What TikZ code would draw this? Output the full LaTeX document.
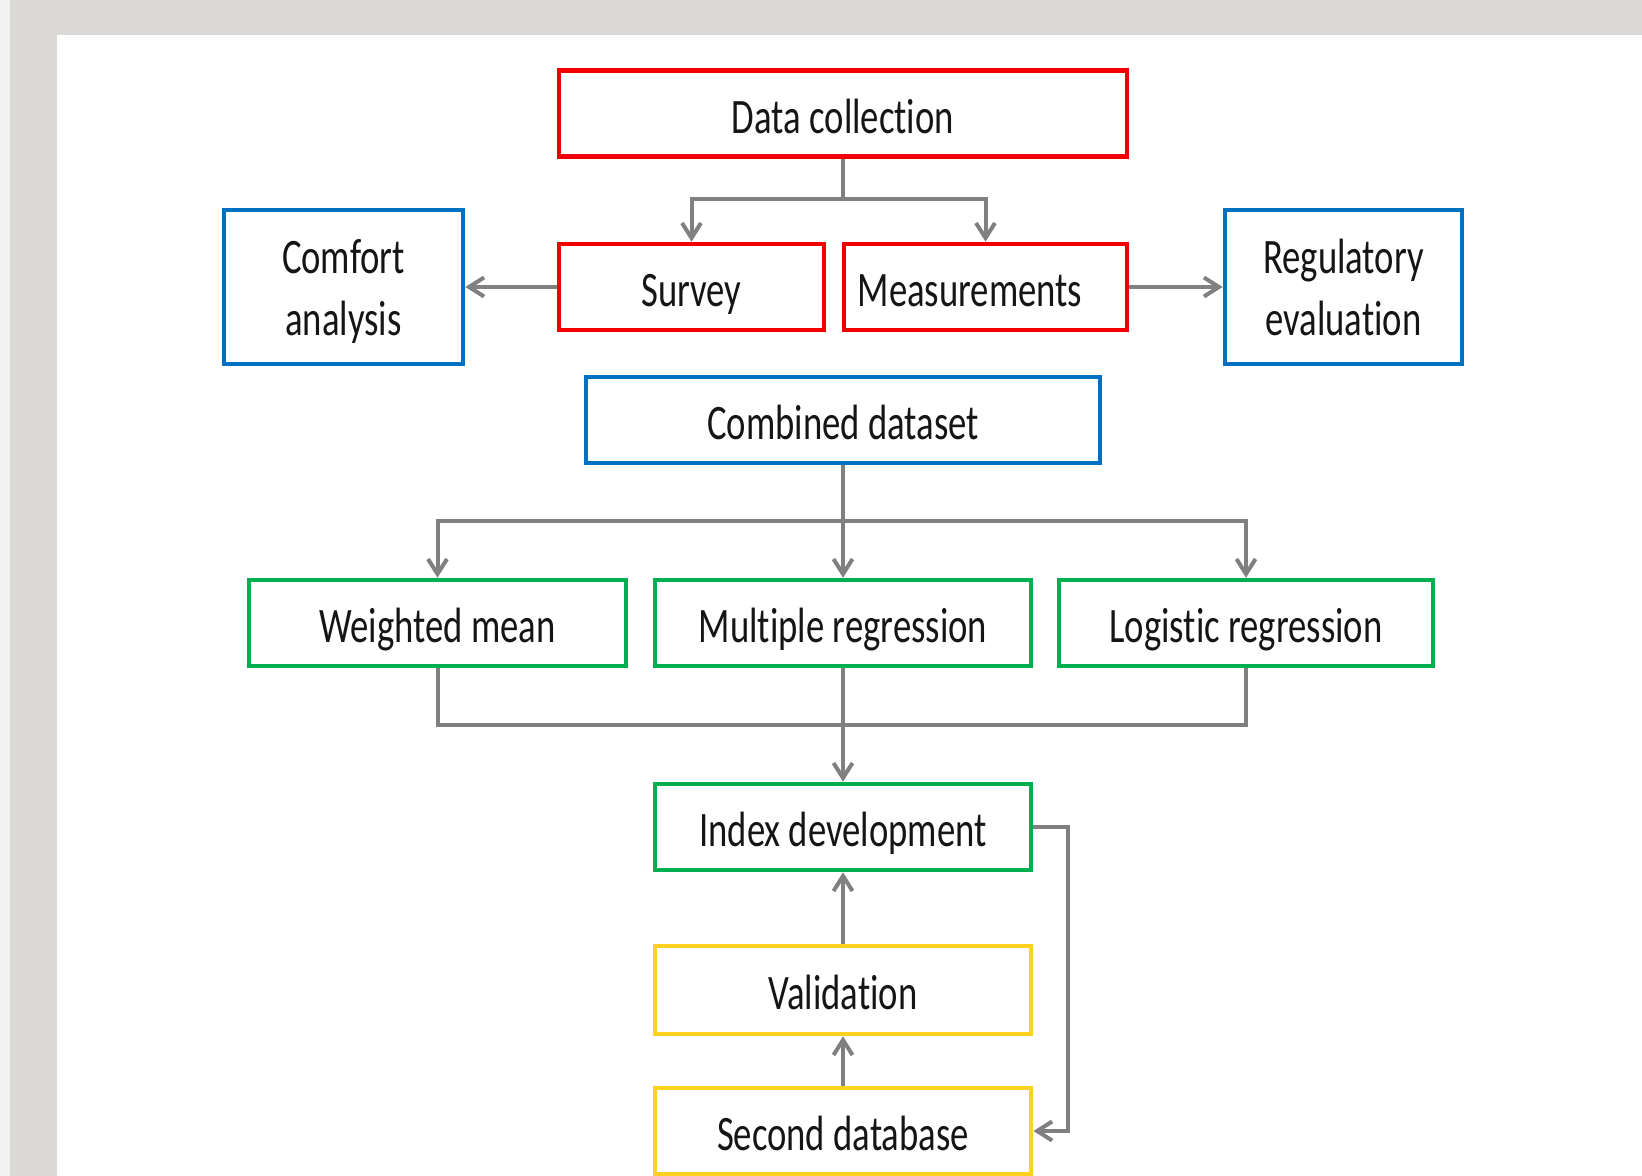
\documentclass[tikz,border=0pt]{standalone}
\usepackage{fontspec}
\setmainfont[FakeStretch=0.74,Ligatures=NoCommon]{Carlito}
\usetikzlibrary{arrows.meta}
\definecolor{boxred}{HTML}{F20000}
\definecolor{boxblue}{HTML}{0070C0}
\definecolor{boxgreen}{HTML}{00B050}
\definecolor{boxyellow}{HTML}{FFD21F}
\definecolor{linegray}{HTML}{808080}
\definecolor{framegray}{HTML}{DAD9D5}
\definecolor{textgray}{HTML}{151515}
\tikzset{
  box/.style={rectangle,draw,line width=0.045cm,inner sep=0pt,minimum height=0.86cm,
    text=textgray,align=center,text height=0.49cm,text depth=0.1cm,
    font=\fontsize{14.1}{17.4}\selectfont},
  twolines/.style={minimum height=1.54cm,text height=1.08cm,text depth=0.12cm},
  redbox/.style={box,draw=boxred},
  bluebox/.style={box,draw=boxblue},
  greenbox/.style={box,draw=boxgreen},
  yellowbox/.style={box,draw=boxyellow},
  conn/.style={draw=linegray,line width=0.04cm},
  >={Straight Barb[length=0.15cm,width=0.19cm]}
}
\begin{document}
\begin{tikzpicture}[x=0.01cm,y=-0.01cm]
                \useasboundingbox (0,0) rectangle (1642,1176);
                \fill[white] (0,0) rectangle (1642,1176);
                \fill[framegray] (0,0) rectangle (1642,35);
                \fill[framegray] (0,0) rectangle (57,1176);
                \fill[black!5] (0,0) rectangle (10,1176);
                \node[redbox,minimum width=5.68cm] (datacol) at (843,113.5) {Data collection};
                \node[redbox,minimum width=2.65cm] (survey) at (691.5,287) {Survey};
                \node[redbox,minimum width=2.83cm,align=none] (measure) at (985.5,287) {Measurements\kern0.31cm};
                \node[bluebox,twolines,minimum width=2.39cm] (comfort) at (343.5,287) {Comfort\\analysis};
                \node[bluebox,twolines,minimum width=2.37cm] (regul) at (1343.5,287) {Regulatory\\evaluation};
                \node[bluebox,minimum width=5.14cm] (combined) at (843,420) {Combined dataset};
                \node[greenbox,minimum width=3.77cm] (wmean) at (437.5,623) {Weighted mean};
                \node[greenbox,minimum width=3.76cm] (multreg) at (843,623) {Multiple regression};
                \node[greenbox,minimum width=3.74cm] (logreg) at (1246,623) {Logistic regression};
                \node[greenbox,minimum width=3.76cm] (index) at (843,827) {Index development};
                \node[yellowbox,minimum width=3.76cm,minimum height=0.88cm] (valid) at (843,990) {Validation};
                \node[yellowbox,minimum width=3.76cm] (second) at (843,1131) {Second database};
                \coordinate (split1) at (843,199);
                \coordinate (split2) at (843,521);
                \coordinate (join) at (843,725);
                \coordinate (loop) at (1068,827);
                \draw [conn] (datacol) -- (split1);
                \draw [conn,->] (split1) -| (survey);
                \draw [conn,->] (split1) -| (measure);
                \draw [conn,->] (survey) -- (comfort);
                \draw [conn,->] (measure) -- (regul);
                \draw [conn] (combined) -- (split2);
                \draw [conn,->] (split2) -| (wmean);
                \draw [conn,->] (split2) -- (multreg);
                \draw [conn,->] (split2) -| (logreg);
                \draw [conn] (wmean) |- (join) -| (logreg);
                \draw [conn,->] (multreg) -- (index);
                \draw [conn,->] (valid) -- (index);
                \draw [conn,->] (second) -- (valid);
                \draw [conn,->] (index) -- (loop) |- (second);
            \end{tikzpicture}
\end{document}
